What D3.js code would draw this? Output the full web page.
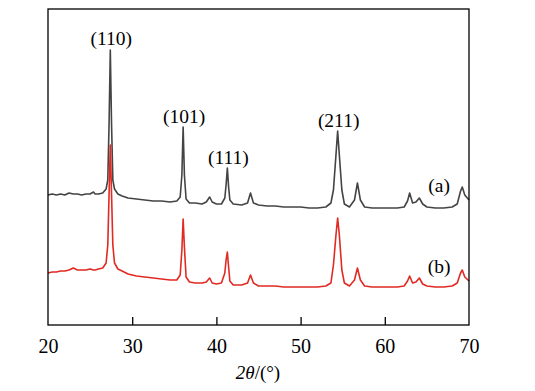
<!DOCTYPE html>
<html>
<head>
<meta charset="utf-8">
<script src="https://cdn.jsdelivr.net/npm/d3@7"></script>
<style>
  body { margin: 0; background: #fff; }
  text { font-family: "Liberation Serif", "Times New Roman", serif; }
</style>
</head>
<body>
<svg id="chart" width="535" height="391"></svg>
<script>
// 2theta (deg) and intensity (a.u.)
const twoTheta = [20.0, 20.5, 21.0, 21.5, 22.0, 22.5, 23.0, 23.5, 24.0, 24.5, 25.0, 25.4, 25.6, 26.0, 26.5, 26.9, 27.1, 27.25, 27.4, 27.55, 27.7, 27.9, 28.3, 28.8, 29.5, 30.5, 31.5, 32.5, 33.5, 34.5, 35.3, 35.7, 35.9, 36.05, 36.2, 36.4, 36.8, 37.5, 38.3, 38.8, 39.2, 39.5, 40.0, 40.6, 41.0, 41.15, 41.3, 41.45, 41.6, 42.0, 43.0, 43.7, 44.05, 44.4, 45.0, 46.0, 47.0, 48.0, 49.0, 50.0, 51.0, 52.0, 53.0, 53.6, 53.9, 54.2, 54.4, 54.6, 54.9, 55.2, 55.8, 56.4, 56.75, 57.1, 57.6, 58.5, 59.5, 60.5, 61.5, 62.3, 62.7, 62.95, 63.3, 63.7, 64.1, 64.5, 65.0, 66.0, 67.0, 68.0, 68.6, 69.0, 69.2, 69.5, 70.0];

const seriesA = [130, 131, 130, 131, 130, 132, 131, 131, 130, 131, 131, 133, 131, 131, 132, 136, 145, 200, 275, 200, 145, 136, 131, 129, 127, 126, 125, 124, 124, 123, 124, 128, 150, 198, 150, 126, 122, 122, 121, 123, 128, 123, 121, 121, 127, 140, 157, 138, 125, 121, 120, 122, 132, 122, 120, 119, 119, 118, 118, 118, 117, 117, 118, 122, 135, 170, 194, 170, 135, 121, 118, 125, 142, 125, 118, 117, 117, 117, 117, 118, 124, 132, 122, 123, 127, 121, 118, 117, 117, 118, 121, 134, 138, 130, 125];

const seriesB = [52, 53, 53, 54, 54, 55, 57, 55, 55, 55, 56, 55, 55, 56, 57, 62, 80, 130, 180, 130, 80, 62, 56, 54, 51, 49, 48, 47, 46, 45, 45, 50, 75, 106, 78, 48, 43, 42, 42, 43, 47, 42, 41, 42, 52, 65, 73, 58, 44, 40, 40, 42, 50, 42, 39, 39, 39, 38, 38, 38, 38, 38, 39, 42, 60, 90, 107, 90, 55, 42, 39, 45, 57, 45, 39, 38, 38, 38, 38, 39, 44, 49, 42, 43, 47, 41, 39, 38, 38, 39, 42, 52, 55, 48, 44];

const xTicks = [20, 30, 40, 50, 60, 70];
const peakLabels = ["(110)", "(101)", "(111)", "(211)"];
const peakAngles = [27.4, 36.05, 41.3, 54.4];
const sampleLabels = ["(a)", "(b)"];

const svg = d3.select("#chart");
const mLeft = 48, mRight = 469, mTop = 9, mBottom = 325;

const x = d3.scaleLinear().domain([20, 70]).range([mLeft, mRight]);
const y = d3.scaleLinear().domain([0, 316]).range([mBottom, mTop]);

const line = vals => d3.line()
    .x((d, i) => x(twoTheta[i]))
    .y(d => y(d))(vals);

// curves
svg.append("path")
    .attr("d", line(seriesA))
    .attr("fill", "none")
    .attr("stroke", "#444")
    .attr("stroke-width", 1.6)
    .attr("stroke-linejoin", "round");

svg.append("path")
    .attr("d", line(seriesB))
    .attr("fill", "none")
    .attr("stroke", "#e02a22")
    .attr("stroke-width", 1.6)
    .attr("stroke-linejoin", "round");

// frame
svg.append("rect")
    .attr("x", mLeft).attr("y", mTop)
    .attr("width", mRight - mLeft).attr("height", mBottom - mTop)
    .attr("fill", "none")
    .attr("stroke", "#000")
    .attr("stroke-width", 1.3);

// bottom axis, ticks inward
const xAxis = svg.append("g")
    .attr("transform", `translate(0,${mBottom})`)
    .call(d3.axisBottom(x).tickValues(xTicks).tickSizeInner(-8).tickSizeOuter(0).tickPadding(14));
xAxis.select(".domain").remove();
xAxis.selectAll("line").attr("stroke", "#000").attr("stroke-width", 1.3)
    .attr("display", d => (d === 20 || d === 70) ? "none" : null);
xAxis.selectAll("text")
    .attr("font-size", 20)
    .attr("fill", "#000")
    .attr("dy", "0.71em");

// axis title
const title = svg.append("text")
    .attr("x", 258).attr("y", 379)
    .attr("text-anchor", "middle")
    .attr("font-size", 19)
    .attr("fill", "#000");
title.append("tspan").attr("font-style", "italic").text("2θ");
title.append("tspan").text("/(°)");

// peak labels
const peakOffset = [5, 4, 4, 4];
svg.selectAll("text.peak")
    .data(peakLabels)
  .enter().append("text")
    .attr("class", "peak")
    .attr("x", (d, i) => x(peakAngles[i]) + 1)
    .attr("y", (d, i) => y(seriesA[twoTheta.indexOf(peakAngles[i])]) - peakOffset[i])
    .attr("text-anchor", "middle")
    .attr("font-size", 19.5)
    .attr("fill", "#000")
    .text(d => d);

// sample labels
const sampleY = [192, 273];
svg.selectAll("text.sample")
    .data(sampleLabels)
  .enter().append("text")
    .attr("class", "sample")
    .attr("x", x(66.45))
    .attr("y", (d, i) => sampleY[i])
    .attr("text-anchor", "middle")
    .attr("font-size", 19.5)
    .attr("fill", "#000")
    .text(d => d);
</script>
</body>
</html>
